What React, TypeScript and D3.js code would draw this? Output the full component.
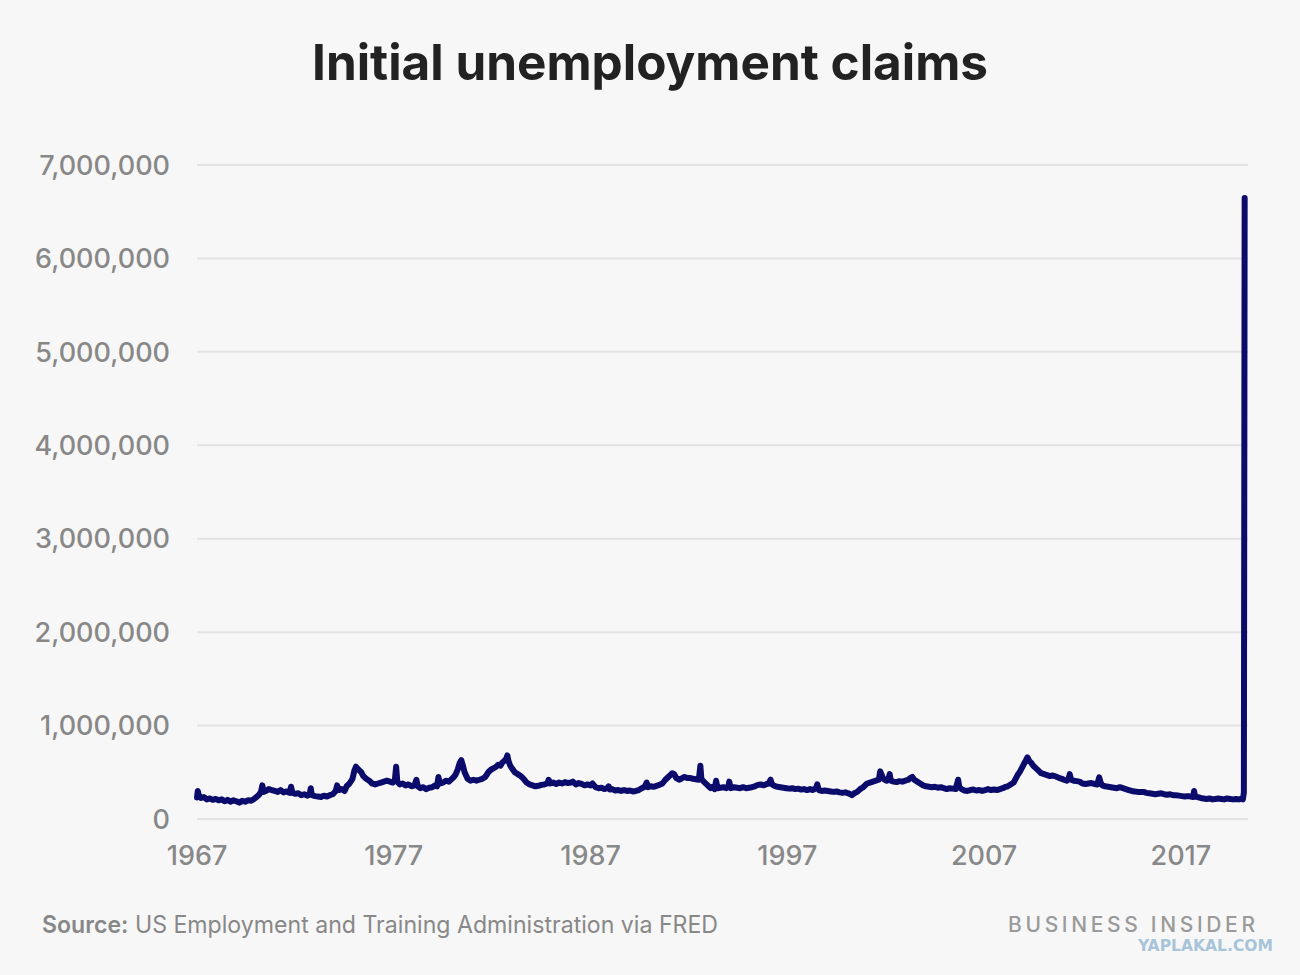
import React from 'react'
import * as d3 from 'd3'

// Weekly initial claims (decimal year, thousands)
const years: number[] = [
  1967.0, 1967.04, 1967.1, 1967.2, 1967.35, 1967.5, 1967.65, 1967.8, 1967.95,
  1968.1, 1968.25, 1968.4, 1968.55, 1968.7, 1968.85,
  1969.0, 1969.15, 1969.3, 1969.45, 1969.6, 1969.75, 1969.9,
  1970.05, 1970.15, 1970.25, 1970.32, 1970.38, 1970.5, 1970.65, 1970.8, 1970.95,
  1971.1, 1971.25, 1971.4, 1971.55, 1971.7, 1971.78, 1971.85, 1972.0,
  1972.15, 1972.3, 1972.45, 1972.6, 1972.72, 1972.78, 1972.84, 1973.0,
  1973.15, 1973.3, 1973.45, 1973.6, 1973.75, 1973.9,
  1974.05, 1974.12, 1974.2, 1974.35, 1974.5, 1974.6, 1974.75, 1974.9,
  1975.0, 1975.08, 1975.15, 1975.25, 1975.35, 1975.45, 1975.6, 1975.75, 1975.9,
  1976.05, 1976.2, 1976.35, 1976.5, 1976.65, 1976.8, 1976.95,
  1977.05, 1977.12, 1977.18, 1977.3, 1977.45, 1977.6, 1977.75, 1977.9,
  1978.05, 1978.15, 1978.22, 1978.35, 1978.5, 1978.65, 1978.8, 1978.95,
  1979.1, 1979.2, 1979.27, 1979.33, 1979.5, 1979.65, 1979.8, 1979.95,
  1980.05, 1980.15, 1980.25, 1980.35, 1980.43, 1980.5, 1980.6, 1980.75, 1980.9,
  1981.05, 1981.2, 1981.35, 1981.5, 1981.65, 1981.8, 1981.95,
  1982.05, 1982.2, 1982.3, 1982.42, 1982.5, 1982.6, 1982.7, 1982.77, 1982.83, 1982.9, 1982.95,
  1983.05, 1983.15, 1983.3, 1983.45, 1983.6, 1983.75, 1983.9,
  1984.05, 1984.2, 1984.35, 1984.5, 1984.65, 1984.8, 1984.87, 1984.95,
  1985.1, 1985.25, 1985.4, 1985.55, 1985.7, 1985.85,
  1986.0, 1986.1, 1986.25, 1986.4, 1986.55, 1986.7, 1986.85,
  1987.0, 1987.1, 1987.25, 1987.4, 1987.55, 1987.7, 1987.85, 1987.92, 1987.98,
  1988.1, 1988.25, 1988.4, 1988.55, 1988.7, 1988.85,
  1989.0, 1989.15, 1989.3, 1989.45, 1989.6, 1989.75, 1989.85, 1989.92,
  1990.05, 1990.2, 1990.35, 1990.5, 1990.65, 1990.8, 1990.95,
  1991.05, 1991.15, 1991.25, 1991.35, 1991.5, 1991.6, 1991.75, 1991.9,
  1992.05, 1992.2, 1992.35, 1992.5, 1992.58, 1992.63, 1992.75, 1992.9,
  1993.0, 1993.1, 1993.2, 1993.3, 1993.38, 1993.45, 1993.6, 1993.75, 1993.9,
  1994.0, 1994.05, 1994.12, 1994.3, 1994.45, 1994.6, 1994.75, 1994.9,
  1995.05, 1995.2, 1995.35, 1995.5, 1995.65, 1995.8, 1995.95,
  1996.05, 1996.15, 1996.22, 1996.35, 1996.5, 1996.65, 1996.8, 1996.95,
  1997.1, 1997.25, 1997.4, 1997.55, 1997.7, 1997.85,
  1998.0, 1998.15, 1998.3, 1998.45, 1998.52, 1998.6, 1998.75, 1998.9,
  1999.05, 1999.2, 1999.35, 1999.5, 1999.65, 1999.8, 1999.95,
  2000.1, 2000.2, 2000.28, 2000.4, 2000.55, 2000.7, 2000.85, 2000.95,
  2001.05, 2001.2, 2001.35, 2001.5, 2001.65, 2001.72, 2001.78, 2001.85, 2001.95,
  2002.05, 2002.15, 2002.2, 2002.26, 2002.4, 2002.55, 2002.7, 2002.85,
  2003.0, 2003.15, 2003.25, 2003.35, 2003.45, 2003.6, 2003.75, 2003.9,
  2004.05, 2004.2, 2004.35, 2004.5, 2004.65, 2004.8, 2004.95,
  2005.1, 2005.25, 2005.4, 2005.55, 2005.68, 2005.74, 2005.85,
  2006.0, 2006.15, 2006.3, 2006.45, 2006.6, 2006.75, 2006.9,
  2007.05, 2007.2, 2007.35, 2007.5, 2007.65, 2007.8, 2007.95,
  2008.05, 2008.2, 2008.35, 2008.5, 2008.6, 2008.7, 2008.8, 2008.9, 2009.0,
  2009.08, 2009.15, 2009.2, 2009.25, 2009.3, 2009.4, 2009.5, 2009.6, 2009.75, 2009.9,
  2010.05, 2010.2, 2010.35, 2010.5, 2010.65, 2010.8, 2010.95,
  2011.05, 2011.2, 2011.3, 2011.35, 2011.42, 2011.55, 2011.7, 2011.85,
  2012.0, 2012.15, 2012.3, 2012.45, 2012.6, 2012.75, 2012.85, 2012.92,
  2013.0, 2013.15, 2013.3, 2013.45, 2013.6, 2013.75, 2013.9,
  2014.05, 2014.2, 2014.35, 2014.5, 2014.65, 2014.8, 2014.95,
  2015.1, 2015.25, 2015.4, 2015.55, 2015.7, 2015.85,
  2016.0, 2016.15, 2016.3, 2016.45, 2016.6, 2016.75, 2016.9,
  2017.05, 2017.2, 2017.35, 2017.5, 2017.62, 2017.67, 2017.72, 2017.85,
  2018.0, 2018.15, 2018.3, 2018.45, 2018.6, 2018.75, 2018.9,
  2019.05, 2019.2, 2019.35, 2019.5, 2019.65, 2019.8, 2019.95,
  2020.05, 2020.15, 2020.2, 2020.22, 2020.24,
]

const claims: number[] = [
  230, 300, 250, 225, 235, 210, 220, 205, 215,
  200, 210, 190, 205, 185, 200,
  190, 175, 195, 185, 200, 195, 215,
  240, 260, 290, 360, 290, 300, 320, 310, 300,
  290, 310, 285, 295, 280, 345, 280, 270,
  275, 255, 265, 250, 260, 330, 255, 245,
  240, 235, 250, 240, 255, 265,
  300, 360, 310, 320, 300, 350, 380, 430,
  520, 560, 540, 520, 500, 460, 430, 410, 380,
  370, 380, 390, 400, 410, 400, 390,
  410, 560, 400, 370, 380, 360, 370, 350,
  360, 420, 350, 330, 340, 320, 335, 340,
  360, 350, 450, 380, 390, 410, 400, 430,
  450, 480, 530, 600, 630, 580, 500, 430, 410,
  420, 410, 420, 430, 450, 500, 530,
  540, 560, 580, 570, 600, 620, 640, 680, 620, 580, 560,
  530, 500, 480, 460, 430, 390, 370,
  360, 350, 355, 365, 370, 380, 420, 380,
  390, 375, 390, 380, 395, 385,
  390, 400, 370, 385, 375, 360, 370,
  360, 380, 340, 330, 335, 320, 330, 350, 315,
  320, 305, 310, 300, 310, 300,
  305, 295, 300, 310, 330, 345, 390, 340,
  350, 345, 355, 365, 380, 420, 450,
  470, 490, 480, 440, 420, 430, 450, 440,
  440, 430, 425, 420, 570, 430, 400, 370,
  350, 330, 345, 320, 410, 330, 335, 340, 330,
  345, 400, 330, 340, 335, 330, 340, 330,
  335, 340, 350, 365, 370, 360, 375,
  380, 420, 370, 355, 345, 340, 335, 330,
  325, 330, 320, 325, 315, 320,
  310, 320, 310, 330, 370, 310, 300, 305,
  300, 295, 290, 295, 285, 280, 285,
  275, 265, 255, 275, 290, 320, 340, 360,
  380, 390, 400, 410, 420, 510, 480, 440, 420,
  410, 440, 480, 410, 400, 395, 405, 400,
  410, 420, 440, 450, 420, 400, 380, 360,
  350, 345, 340, 345, 335, 340, 330,
  320, 330, 325, 320, 420, 340, 320,
  305, 300, 310, 315, 305, 310, 300,
  310, 320, 310, 315, 310, 320, 330,
  340, 350, 370, 390, 430, 470, 500, 540, 580,
  610, 640, 660, 640, 620, 600, 570, 550, 520, 490,
  480, 470, 460, 465, 455, 440, 430,
  420, 410, 440, 480, 420, 410, 405, 400,
  380, 375, 380, 385, 375, 370, 445, 390,
  360, 350, 345, 340, 335, 330, 340,
  330, 320, 310, 300, 295, 290, 290,
  290, 280, 275, 270, 265, 270,
  275, 265, 260, 265, 255, 255, 250,
  245, 240, 245, 240, 235, 300, 240, 235,
  225, 220, 215, 220, 210, 215, 220,
  215, 210, 220, 215, 210, 215, 210,
  215, 210, 282, 3307, 6648,
]

const xTicks: number[] = [1967, 1977, 1987, 1997, 2007, 2017]
const yTicks: number[] = [0, 1000000, 2000000, 3000000, 4000000, 5000000, 6000000, 7000000]

const FONT = 'Inter, "Noto Sans", sans-serif'
const GRAY = '#888888'

export default function App() {
  const width = 1300
  const height = 975

  const x = d3.scaleLinear().domain([1967, 2020.41]).range([197, 1248])
  const y = d3.scaleLinear().domain([0, 7000000]).range([819, 165])

  const points = years.map((yr, i) => ({ yr, v: claims[i] * 1000 }))
  const line = d3
    .line<{ yr: number; v: number }>()
    .x(d => x(d.yr))
    .y(d => y(d.v))

  const fmt = d3.format(',')

  return (
    <svg
      width={width}
      height={height}
      style={{ position: 'absolute', left: 0, top: 0, display: 'block' }}
    >
      <rect x={0} y={0} width={width} height={height} fill="#f7f7f7" />

      <text
        x={650}
        y={80}
        textAnchor="middle"
        fontFamily={FONT}
        fontWeight={700}
        fontSize={50}
        fill="#222222"
        textLength={676}
        lengthAdjust="spacingAndGlyphs"
      >
        Initial unemployment claims
      </text>

      {/* grid + y labels */}
      {yTicks.map(t => (
        <g key={t}>
          <line x1={x(1967)} x2={x(2020.41)} y1={y(t)} y2={y(t)} stroke="#e3e3e3" strokeWidth={2} />
          <text
            x={170}
            y={y(t)}
            dy="0.36em"
            textAnchor="end"
            fontFamily={FONT}
            fontWeight={500}
            fontSize={27}
            fill={GRAY}
          >
            {fmt(t)}
          </text>
        </g>
      ))}

      {/* x labels */}
      {xTicks.map(t => (
        <text
          key={t}
          x={x(t)}
          y={865}
          textAnchor="middle"
          fontFamily={FONT}
          fontWeight={500}
          fontSize={27}
          fill={GRAY}
        >
          {t}
        </text>
      ))}

      <path
        d={line(points) || ''}
        fill="none"
        stroke="#0b0b6b"
        strokeWidth={6}
        strokeLinejoin="round"
        strokeLinecap="round"
      />

      {/* footer */}
      <text
        x={42}
        y={933}
        fontFamily={FONT}
        fontSize={24}
        fill={GRAY}
        textLength={676}
        lengthAdjust="spacingAndGlyphs"
      >
        <tspan fontWeight={600}>Source:</tspan>
        <tspan> US Employment and Training Administration via FRED</tspan>
      </text>
      <text
        x={1008}
        y={932}
        fontFamily={FONT}
        fontSize={21}
        fontWeight={500}
        fill="#9a9a9a"
        textLength={247}
        lengthAdjust="spacing"
      >
        BUSINESS INSIDER
      </text>
      <text
        x={1138}
        y={951}
        fontFamily='"Liberation Sans Narrow", "DejaVu Sans Condensed", sans-serif'
        fontSize={15}
        fontWeight={700}
        fill="#a8c4d9"
        textLength={135}
        lengthAdjust="spacingAndGlyphs"
      >
        YAPLAKAL.COM
      </text>
    </svg>
  )
}
